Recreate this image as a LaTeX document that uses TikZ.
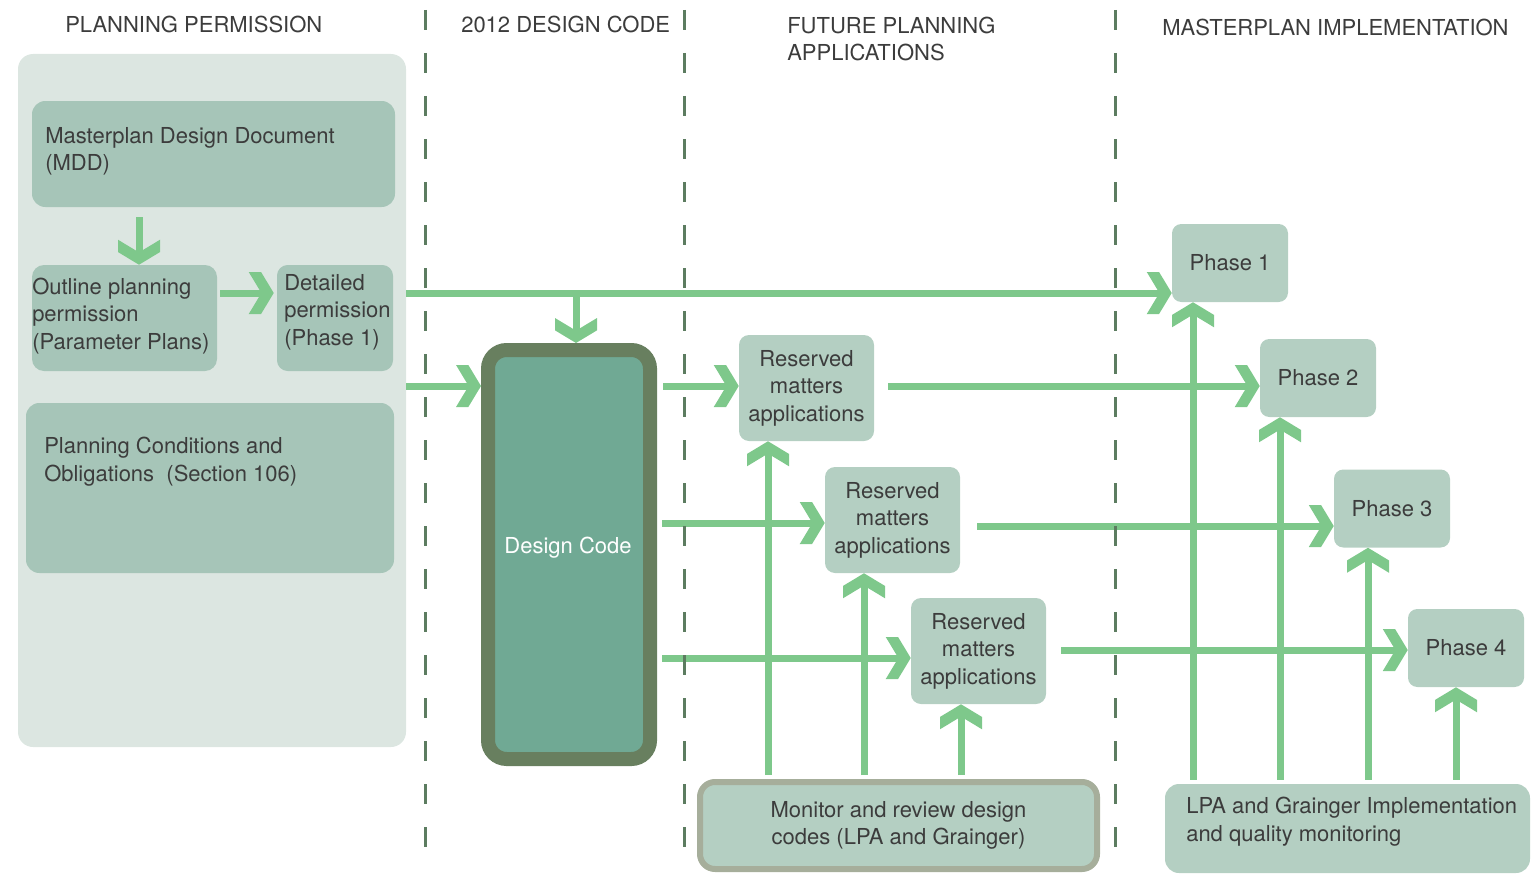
\documentclass[tikz,border=0pt]{standalone}
\usepackage{fontspec}
\setmainfont{TeX Gyre Heros}
\usetikzlibrary{arrows.meta}
\definecolor{panelbg}{HTML}{DCE6E1}
\definecolor{boxdark}{HTML}{A6C5B8}
\definecolor{boxlight}{HTML}{B4CFC2}
\definecolor{arrowgreen}{HTML}{7EC88B}
\definecolor{dcborder}{HTML}{687F5F}
\definecolor{dcfill}{HTML}{70A994}
\definecolor{monborder}{HTML}{A6AE9B}
\definecolor{dashcol}{HTML}{5C7C60}
\definecolor{textcol}{HTML}{3C3C3C}
\pgfdeclarearrow{
  name = Chev,
  setup code = {
    \pgfarrowssettipend{0pt}
    \pgfarrowssetlineend{-6pt}
    \pgfarrowssetbackend{-18.75pt}
    \pgfarrowshullpoint{0pt}{0pt}
    \pgfarrowsupperhullpoint{-18.75pt}{15.75pt}
  },
  drawing code = {
    \pgfpathmoveto{\pgfqpoint{0pt}{0pt}}
    \pgfpathlineto{\pgfqpoint{-9.5pt}{15.75pt}}
    \pgfpathlineto{\pgfqpoint{-18.75pt}{15.75pt}}
    \pgfpathlineto{\pgfqpoint{-9.25pt}{0pt}}
    \pgfpathlineto{\pgfqpoint{-18.75pt}{-15.75pt}}
    \pgfpathlineto{\pgfqpoint{-9.5pt}{-15.75pt}}
    \pgfpathclose
    \pgfusepathqfill
  }
}
\begin{document}
\begin{tikzpicture}[x=0.75pt,y=-0.75pt,
  every node/.style={text=textcol, font=\fontsize{16.5}{20.6}\selectfont},
  panelbox/.style={fill=panelbg, rounded corners=11.25pt, inner sep=0pt},
  lbox/.style={fill=boxdark, rounded corners=10pt, inner sep=0pt},
  rmbox/.style={fill=boxlight, rounded corners=7.5pt, inner sep=0pt, align=center,
    minimum width=101.25pt, minimum height=79.5pt},
  phbox/.style={fill=boxlight, rounded corners=7pt, inner sep=0pt,
    minimum width=87pt, minimum height=58.5pt},
  txt/.style={inner sep=0pt, align=left, anchor=base west},
  hdr/.style={inner sep=0pt, align=left, anchor=base west},
  arr/.style={draw=arrowgreen, line width=5.25pt, -{Chev}},
  dashln/.style={draw=dashcol, line width=2.25pt, dash pattern=on 15pt off 17.25pt}
]
\useasboundingbox (0,0) rectangle (1538,874);

% left panel and boxes
\node[panelbox, minimum width=291pt, minimum height=519.75pt] (panel) at (212,400.5) {};
\node[lbox, minimum width=272.25pt, minimum height=79.5pt] (mdd) at (213.5,154) {};
\node[lbox, minimum width=138.75pt, minimum height=79.5pt, rounded corners=9pt] (outline) at (124.5,318) {};
\node[lbox, minimum width=87pt, minimum height=79.5pt, rounded corners=8pt] (det) at (335,318) {};
\node[lbox, minimum width=276pt, minimum height=127.5pt] (pco) at (210,488) {};

% design code
\node[draw=dcborder, fill=dcfill, line width=10.5pt, rounded corners=14pt,
  minimum width=121.5pt, minimum height=306.75pt, inner sep=0pt] (dc) at (569,554.5) {};
\node[inner sep=0pt, anchor=base, text=white] (dctext) at (568,553) {Design Code};

% reserved matters
\node[rmbox] (rm1) at (806.5,388) {Reserved\\matters\\applications};
\node[rmbox] (rm2) at (892.5,520) {Reserved\\matters\\applications};
\node[rmbox] (rm3) at (978.5,651) {Reserved\\matters\\applications};

% phases
\node[phbox] (ph1) at (1230,263) {Phase 1};
\node[phbox] (ph2) at (1318,378) {Phase 2};
\node[phbox] (ph3) at (1392,508.5) {Phase 3};
\node[phbox] (ph4) at (1466,648) {Phase 4};

% bottom boxes
\node[draw=monborder, fill=boxlight, line width=4.5pt, rounded corners=11.25pt,
  minimum width=297.75pt, minimum height=65.25pt, inner sep=0pt, align=center] (mon) at (898.5,825.5)
  {Monitor and review design\\codes (LPA and Grainger)};
\node[fill=boxlight, rounded corners=10.5pt, minimum width=273.75pt, minimum height=66.75pt,
  inner sep=0pt] (lpa) at (1347.5,828.5) {};

% helper coordinates
\coordinate (yA) at (0,293);
\coordinate (yB) at (0,386);
\coordinate (yC) at (0,523);
\coordinate (yD) at (0,658);
\coordinate (yE) at (0,526);
\coordinate (yF) at (0,650);
\coordinate (xA) at (139,0);
\coordinate (xB) at (576,0);
\coordinate (xM1) at (768,0);
\coordinate (xM2) at (864,0);
\coordinate (xM3) at (961,0);
\coordinate (xL1) at (1193,0);
\coordinate (xL2) at (1280,0);
\coordinate (xL3) at (1368,0);
\coordinate (xL4) at (1456,0);

% arrows
\draw[arr] ([yshift=-7.5pt]xA |- mdd.south) -- (xA |- outline.north);
\draw[arr] ([xshift=2.25pt]outline.east |- yA) -- ([xshift=-2.25pt]det.west |- yA);
\draw[arr] (panel.east |- yA) -- (ph1.west |- yA);
\draw[arr] (xB |- yA) -- (xB |- dc.north);
\draw[arr] (panel.east |- yB) -- (dc.west |- yB);
\draw[arr] ([xshift=4.5pt]dc.east |- yB) -- (rm1.west |- yB);
\draw[arr] ([xshift=4pt]dc.east |- yC) -- (rm2.west |- yC);
\draw[arr] ([xshift=4pt]dc.east |- yD) -- (rm3.west |- yD);
\draw[arr] ([xshift=10.5pt]rm1.east |- yB) -- (ph2.west |- yB);
\draw[arr] ([xshift=12.75pt]rm2.east |- yE) -- (ph3.west |- yE);
\draw[arr] ([xshift=11.25pt]rm3.east |- yF) -- (ph4.west |- yF);
\draw[arr] ([yshift=3pt]xM1 |- mon.north) -- (xM1 |- rm1.south);
\draw[arr] ([yshift=3pt]xM2 |- mon.north) -- (xM2 |- rm2.south);
\draw[arr] ([yshift=3pt]xM3 |- mon.north) -- (xM3 |- rm3.south);
\draw[arr] ([yshift=3pt]xL1 |- lpa.north) -- (xL1 |- ph1.south);
\draw[arr] ([yshift=3pt]xL2 |- lpa.north) -- (xL2 |- ph2.south);
\draw[arr] ([yshift=3pt]xL3 |- lpa.north) -- (xL3 |- ph3.south);
\draw[arr] ([yshift=3pt]xL4 |- lpa.north) -- (xL4 |- ph4.south);

% dashed separators
\draw[dashln] (425,10) -- (425,847);
\draw[dashln] (684,10) -- (684,847);
\draw[dashln] (1115,10) -- (1115,847);

% texts (base anchor = baseline of last line)
\node[hdr] (h1) at (65,33) {PLANNING PERMISSION};
\node[hdr] (h2) at (461,33) {2012 DESIGN CODE};
\node[hdr] (h3) at (787,61) {FUTURE PLANNING\\APPLICATIONS};
\node[hdr] (h4) at (1162,36) {MASTERPLAN IMPLEMENTATION};
\node[txt] (tmdd) at (45,170.5) {Masterplan Design Document\\(MDD)};
\node[txt] (tout) at (32,349) {Outline planning\\permission\\(Parameter Plans)};
\node[txt] (tdet) at (284,345) {Detailed\\permission\\(Phase 1)};
\node[txt] (tpco) at (44,481) {Planning Conditions and\\Obligations\ \ (Section 106)};
\node[txt] (tlpa) at (1186,841) {LPA and Grainger Implementation\\and quality monitoring};
\end{tikzpicture}
\end{document}
